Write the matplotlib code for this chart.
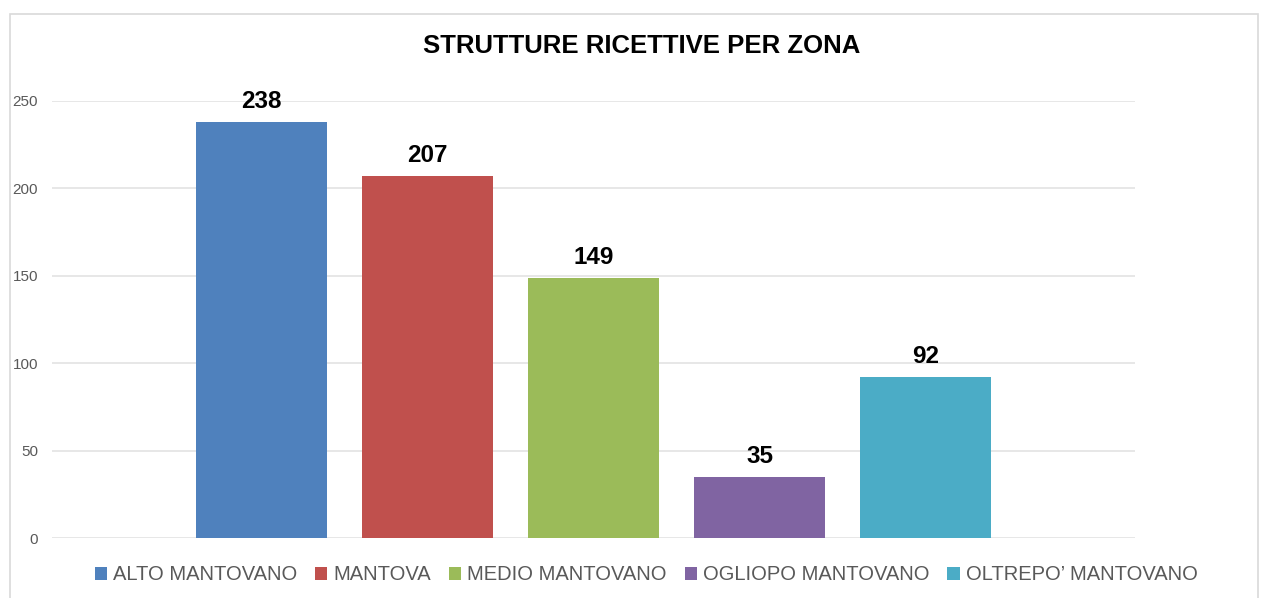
import matplotlib.pyplot as plt
from matplotlib.patches import Rectangle
from matplotlib import font_manager

# data
zones = ["ALTO MANTOVANO", "MANTOVA", "MEDIO MANTOVANO", "OGLIOPO MANTOVANO", "OLTREPO\u2019 MANTOVANO"]
counts = [238, 207, 149, 35, 92]
colors = ["#4f81bd", "#c0504d", "#9bbb59", "#8064a2", "#4bacc6"]
yticks = [0, 50, 100, 150, 200, 250]

names = {f.name for f in font_manager.fontManager.ttflist}
fam = ["Liberation Sans Narrow", "DejaVu Sans"] if "Liberation Sans Narrow" in names else ["Liberation Sans", "DejaVu Sans"]
plt.rcParams['font.family'] = fam

W, H = 1261, 598
fig = plt.figure(figsize=(W / 100, H / 100), dpi=100)
ax = fig.add_axes([52 / W, 1 - 538 / H, (1135 - 52) / W, (538 - 101) / H])

# chart border
fig.patches.append(Rectangle((10 / W, -0.1), 1248 / W, 1.1 - 14 / H, transform=fig.transFigure,
                             fill=False, edgecolor="#d9d9d9", linewidth=1.2))

for i in range(len(zones)):
    ax.bar(i, counts[i], width=0.79, color=colors[i], label=zones[i], zorder=3)
    ax.text(i, counts[i] + 5, str(counts[i]), ha="center", va="bottom",
            fontsize=17.5, fontweight="bold", color="black")

ax.set_xlim(-1.26, 5.26)
ax.set_ylim(0, 250)
ax.set_yticks(yticks)
ax.set_xticks([])
ax.tick_params(axis="y", length=0, labelsize=11, labelcolor="#595959", pad=10)
ax.grid(axis="y", color="#e3e3e3", linewidth=1.2, zorder=0)
for s in ax.spines.values():
    s.set_visible(False)

fig.text(642 / W, 1 - 46 / H, "STRUTTURE RICETTIVE PER ZONA", ha="center", va="center",
         fontsize=18.5, fontweight="bold", color="black")

fig.legend(loc="center", bbox_to_anchor=(646 / W, 1 - 575 / H), ncol=5, frameon=False,
           fontsize=14.5, handlelength=0.6, handleheight=0.6, handletextpad=0.3,
           columnspacing=0.9, labelcolor="#595959")

fig.savefig("out.png", dpi=100)
